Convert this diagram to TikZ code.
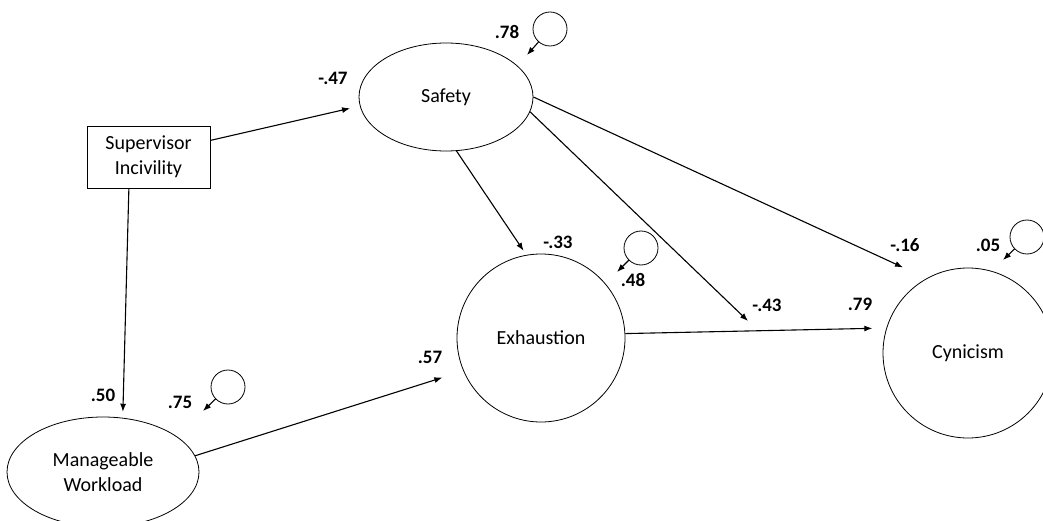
\documentclass[tikz,border=0pt]{standalone}
\usepackage{fontspec}
\setmainfont{Carlito}
\usetikzlibrary{arrows.meta,shapes.geometric}

\begin{document}
\begin{tikzpicture}[
  x=1pt, y=-1pt,
  obs/.style={draw, rectangle, align=center, line width=0.8pt, minimum width=123pt, minimum height=62pt, font=\fontsize{20}{25}\selectfont},
  lat/.style={draw, ellipse, align=center, line width=0.8pt, inner sep=0pt, font=\fontsize{20}{25}\selectfont},
  fac/.style={draw, circle, align=center, line width=0.8pt, inner sep=0pt, font=\fontsize{20}{25}\selectfont},
  err/.style={draw, circle, line width=0.8pt, minimum size=34pt, inner sep=0pt},
  coef/.style={font=\bfseries\fontsize{19}{23}\selectfont, inner sep=0pt},
  path/.style={->, line width=1.1pt},
  >={Latex[length=8pt,width=6pt]}
]
\useasboundingbox (0,0) rectangle (1043,521);

% variables
\node[obs] (sup) at (148.5,157) {Supervisor\\Incivility};
\node[lat, minimum width=174pt, minimum height=108pt] (safety) at (446,97) {Safety};
\node[lat, minimum width=192pt, minimum height=110pt] (work) at (103,472) {Manageable\\Workload};
\node[fac, minimum size=168pt] (exh) at (541,338) {Exhaustion};
\node[fac, minimum size=170pt] (cyn) at (968,353) {Cynicism};

% disturbances
\node[err] (esaf) at (550,29) {};
\node[err] (eexh) at (641,248) {};
\node[err] (ework) at (228,387) {};
\node[err] (ecyn) at (1027,237) {};
\coordinate (tsaf) at (527,55);
\coordinate (texh) at (617,272);
\coordinate (twork) at (203,411);
\coordinate (tcyn) at (1003,260);
\coordinate (mod) at (748,321);

% paths
\draw[path, shorten >=10pt] (sup.15) -- (safety.186);
\draw[path, shorten >=6pt] (sup.238) -- (work.70);
\draw[path, shorten >=5pt] (safety.281) -- (exh.100);
\draw[path] (safety.-10) -- (mod);
\draw[path, shorten >=26pt] (safety.east) -- (cyn.119);
\draw[path, shorten >=14pt] (exh.3) -- (cyn.163);
\draw[path, shorten >=22pt] (work.10) -- (exh.203);

\draw[path] (esaf) -- (tsaf);
\draw[path] (eexh) -- (texh);
\draw[path] (ework) -- (twork);
\draw[path] (ecyn) -- (tcyn);

% coefficients
\node[coef] (csupsaf) at (333,78) {-.47};
\node[coef] (rsaf) at (507,32) {.78};
\node[coef] (csafexh) at (558,242) {-.33};
\node[coef] (rexh) at (633,280) {.48};
\node[coef] (cmod) at (767,305) {-.43};
\node[coef] (cexhcyn) at (860,304) {.79};
\node[coef] (csafcyn) at (905,245) {-.16};
\node[coef] (rcyn) at (988,245) {.05};
\node[coef] (csupwork) at (103,395) {.50};
\node[coef] (rwork) at (180,402) {.75};
\node[coef] (cworkexh) at (430,357) {.57};
\end{tikzpicture}
\end{document}
